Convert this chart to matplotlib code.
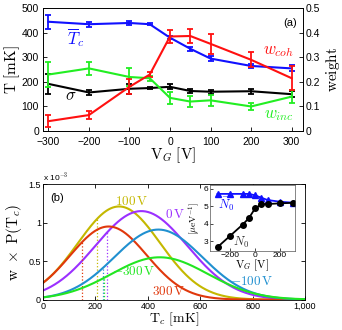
import numpy as np
import matplotlib
matplotlib.use('Agg')
import matplotlib.pyplot as plt
from matplotlib.ticker import FuncFormatter

plt.rcParams['font.family'] = ['Liberation Sans', 'DejaVu Sans']
plt.rcParams['mathtext.fontset'] = 'cm'

# panel (a) data
vg = [-300, -200, -100, -50, 0, 50, 100, 200, 300]
tc_mean = [445, 435, 440, 435, 380, 335, 295, 265, 255]
tc_err = [28, 10, 8, 3, 5, 8, 10, 9, 12]
sigma = [192, 157, 172, 175, 180, 163, 160, 162, 150]
sigma_err = [42, 12, 20, 5, 10, 9, 9, 10, 12]
w_coh = [0.04, 0.065, 0.18, 0.23, 0.385, 0.387, 0.355, 0.29, 0.215]
w_coh_err = [0.025, 0.015, 0.03, 0.012, 0.028, 0.03, 0.042, 0.03, 0.048]
w_inc = [0.23, 0.255, 0.22, 0.215, 0.135, 0.12, 0.125, 0.10, 0.14]
w_inc_err = [0.05, 0.025, 0.035, 0.01, 0.025, 0.022, 0.022, 0.015, 0.025]

# panel (b): gaussian curves (gate voltage, centre mK, width mK, peak height)
curve_vg = [100, 0, 300, -100, -300]
curve_centre = [290, 375, 250, 440, 445]
curve_width = [157, 176, 146, 168, 184]
curve_peak = [1.21e-3, 1.15e-3, 0.95e-3, 0.91e-3, 0.55e-3]
curve_colors = ['#c4b800', '#9b30ff', '#e0380c', '#2090d0', '#22e622']
cut_tc = [206, 245, 150, 228, 234]
label_pos = [(340, 1.28e-3), (505, 1.10e-3), (478, 0.10e-3), (795, 0.24e-3), (345, 0.37e-3)]

# inset data
vg_inset = [-300, -200, -100, -50, 0, 50, 100, 200, 300]
n0_bar = [5.7, 5.7, 5.7, 5.7, 5.62, 5.48, 5.35, 5.25, 5.2]
n0 = [2.66, 3.3, 3.94, 4.31, 4.87, 5.1, 5.12, 5.16, 5.19]

blue = '#1010ff'
red = '#ff1010'
green = '#22ee22'

fig = plt.figure(figsize=(3.42, 3.30), dpi=100)

# ---- panel (a)
ax = fig.add_axes([0.126, 0.603, 0.760, 0.372])
ax2 = ax.twinx()
ebkw = dict(lw=1.5, elinewidth=1.3, capsize=2.5, capthick=1.3)
ax.errorbar(vg, sigma, yerr=sigma_err, color='k', **ebkw)
ax.errorbar(vg, tc_mean, yerr=tc_err, color=blue, **ebkw)
ax2.errorbar(vg, w_inc, yerr=w_inc_err, color=green, **ebkw)
ax2.errorbar(vg, w_coh, yerr=w_coh_err, color=red, **ebkw)
ax.set_xlim(-313, 328)
ax.set_ylim(0, 500)
ax2.set_ylim(0, 0.5)
ax.set_xticks([-300, -200, -100, 0, 100, 200, 300])
ax.set_yticks([0, 100, 200, 300, 400, 500])
ax2.set_yticks([0, 0.1, 0.2, 0.3, 0.4, 0.5])
ax2.set_yticklabels(['0', '0.1', '0.2', '0.3', '0.4', '0.5'])
ax.set_xticklabels(['\u2212300', '\u2212200', '\u2212100', '0', '100', '200', '300'])
for a in (ax, ax2):
    a.tick_params(direction='in', labelsize=7.5, length=3, width=0.6, pad=2)
    for s in a.spines.values():
        s.set_linewidth(0.6)
ax.tick_params(axis='x', pad=4)
ax.tick_params(axis='y', pad=3)
ax.set_xlabel(r'$\mathrm{V}_G\ \mathrm{[V]}$', fontsize=11, labelpad=-1)
ax.set_ylabel(r'$\mathrm{T\ [mK]}$', fontsize=11, labelpad=0)
ax2.set_ylabel(r'$\mathrm{weight}$', fontsize=11, labelpad=3)
ax.text(-232, 382, r'$\overline{T}_c$', color=blue, fontsize=12, ha='center', va='center')
ax.text(-246, 142, r'$\sigma$', color='k', fontsize=12, ha='center', va='center')
ax2.text(268, 0.322, r'$w_{coh}$', color=red, fontsize=12, ha='center', va='center')
ax2.text(268, 0.065, r'$w_{inc}$', color=green, fontsize=12, ha='center', va='center')
ax.text(296, 440, '(a)', fontsize=8, ha='center', va='center')

# ---- panel (b)
bx = fig.add_axes([0.126, 0.092, 0.766, 0.350])
tc = np.linspace(0, 1000, 400)
for v, mu, wd, pk, col, cut, pos in zip(curve_vg, curve_centre, curve_width,
                                        curve_peak, curve_colors, cut_tc, label_pos):
    g = pk * np.exp(-(tc - mu) ** 2 / (2 * wd ** 2))
    bx.plot(tc, g, color=col, lw=1.5)
    top = pk * np.exp(-(cut - mu) ** 2 / (2 * wd ** 2))
    bx.plot([cut, cut], [0, top], color=col, lw=0.9, ls=':')
    bx.text(pos[0], pos[1], r'$%d\,\mathrm{V}$' % v,
            color=col, fontsize=9.5, ha='center', va='center', zorder=5)
bx.set_xlim(0, 1000)
bx.set_ylim(0, 1.5e-3)
bx.set_xticks([0, 200, 400, 600, 800, 1000])
bx.set_xticklabels(['0', '200', '400', '600', '800', '1,000'])
bx.set_yticks([0, 0.5e-3, 1e-3, 1.5e-3])
bx.yaxis.set_major_formatter(FuncFormatter(lambda v, p: '%g' % round(v * 1e3, 3)))
bx.tick_params(direction='in', labelsize=6.5, length=3, width=0.6, pad=1.5, top=True, right=True)
for s in bx.spines.values():
    s.set_linewidth(0.6)
bx.text(0.0, 1.01, r'x 10$^{-3}$', transform=bx.transAxes, fontsize=6, ha='left', va='bottom')
bx.set_xlabel(r'$\mathrm{T}_c\ \mathrm{[mK]}$', fontsize=10, labelpad=0)
bx.set_ylabel(r'$\mathrm{w}\ \times\ \mathrm{P(T}_c\mathrm{)}$', fontsize=11, labelpad=3)
bx.text(55, 1.32e-3, '(b)', fontsize=8, ha='center', va='center')

# ---- inset
ix = fig.add_axes([0.614, 0.24, 0.249, 0.199])
ix.plot(vg_inset, n0_bar, color=blue, lw=1.3, marker='^', ms=4)
ix.plot(vg_inset, n0, color='k', lw=1.3, marker='o', ms=4)
ix.set_xlim(-360, 320)
ix.set_ylim(2.45, 6.2)
ix.set_xticks([-200, 0, 200])
ix.set_xticklabels(['\u2212200', '0', '200'])
ix.set_yticks([3, 4, 5, 6])
ix.tick_params(direction='in', labelsize=6, length=2, width=0.5, pad=1)
for s in ix.spines.values():
    s.set_linewidth(0.5)
    s.set_color('#555555')
ix.set_xlabel(r'$\mathrm{V}_G\ \mathrm{[V]}$', fontsize=8, labelpad=-1)
ix.set_ylabel(r'$\mathrm{[\mu eV^{-1}]}$', fontsize=7, labelpad=1)
ix.text(-233, 5.12, r'$\bar{N}_0$', color=blue, fontsize=9, ha='center', va='center')
ix.text(-110, 2.95, r'$N_0$', color='#333333', fontsize=9, ha='center', va='center')

fig.savefig('out.png', dpi=100)
